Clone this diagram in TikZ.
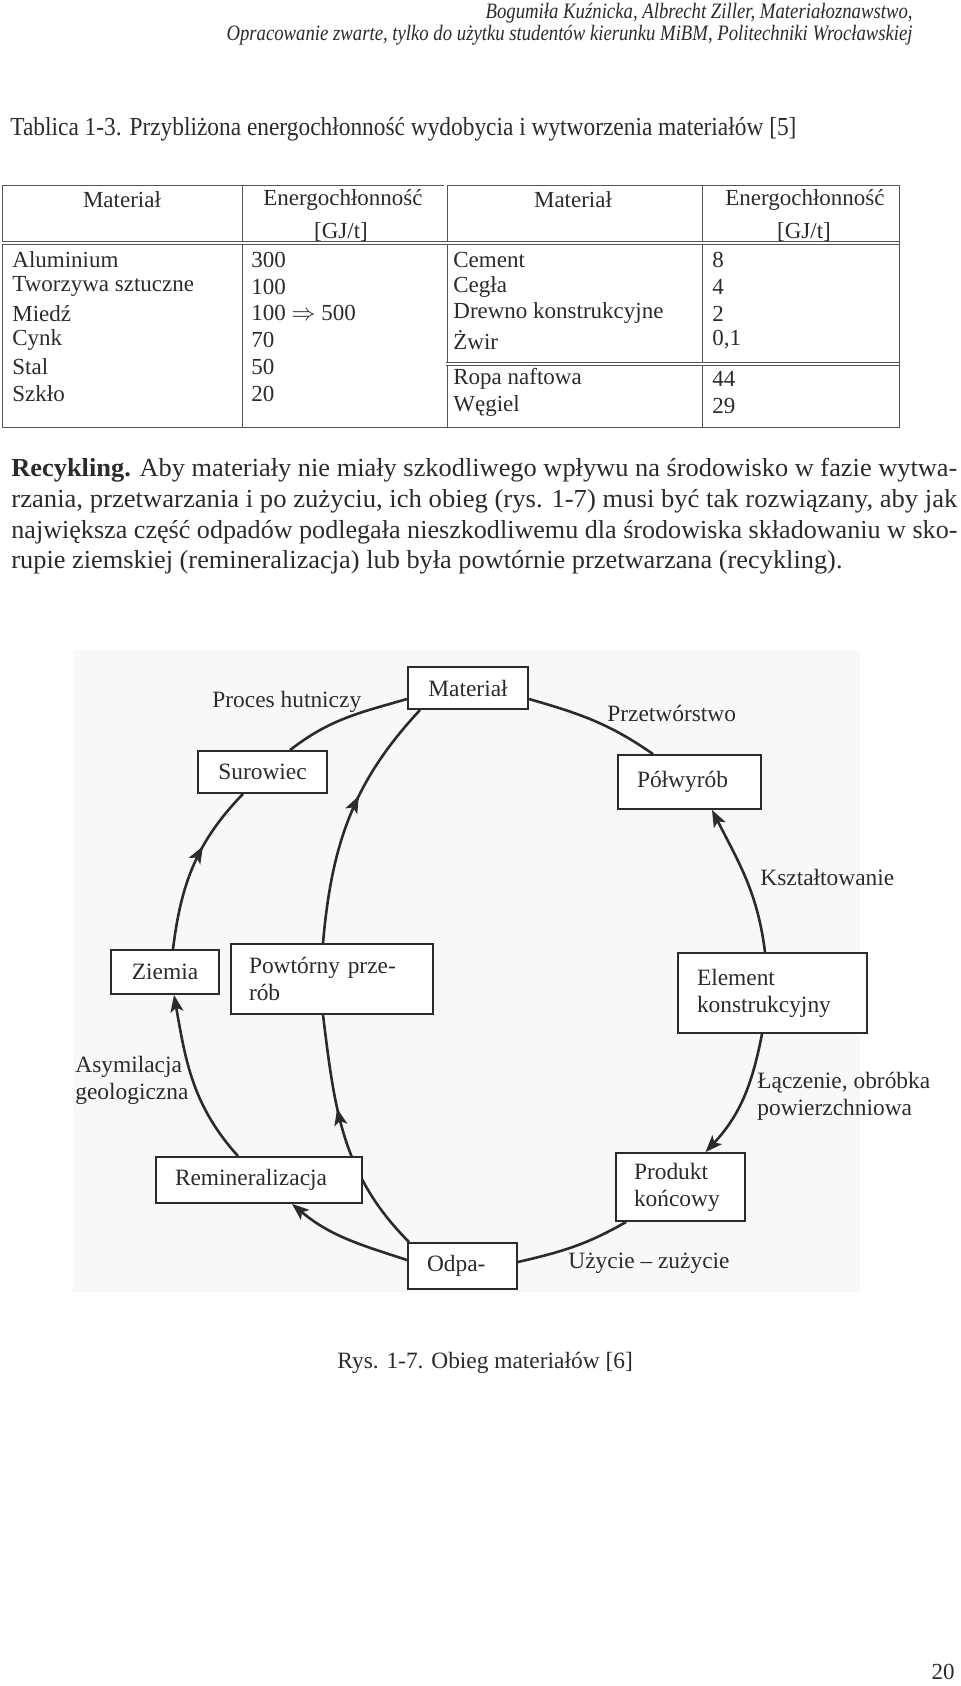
\documentclass[tikz,border=0pt]{standalone}
\usepackage{fontspec}
\setmainfont{Liberation Serif}
\usepackage{graphicx}
\usepackage{tikz}
\usetikzlibrary{calc,arrows.meta}
\usetikzlibrary{decorations.markings}
\definecolor{ink}{HTML}{2B2B2B}
\definecolor{rule}{HTML}{555555}
\definecolor{tint}{HTML}{F8F8F8}
\newcommand{\stretchto}[2]{\resizebox{#1}{\height}{#2}}
\newcommand{\hdrfont}{\fontsize{11}{13}\selectfont}
\newcommand{\boxfont}{\fontsize{11.7}{13.4}\selectfont}
\newcommand{\tabfont}{\fontsize{11.5}{13.3}\selectfont}
\newcommand{\parfont}{\fontsize{13}{15.5}\selectfont}
\pgfdeclarelayer{back}
\pgfdeclarelayer{lines}
\pgfsetlayers{back,lines,main}

\begin{document}
\begin{tikzpicture}[x=0.5pt, y=0.5pt, color=ink,
    stage/.style={draw=ink, line width=0.9pt, fill=white, inner sep=0pt, align=center, font=\boxfont},
    lstage/.style={stage, align=left},
    lbl/.style={anchor=west, inner sep=0pt, align=left, font=\boxfont},
    cell/.style={anchor=west, inner sep=0pt, font=\tabfont},
    hcell/.style={inner sep=0pt, font=\tabfont},
    tline/.style={rule, line width=0.5pt},
    dbl/.style={rule, line width=0.45pt, double=white, double distance=1.1pt},
    flow/.style={ink, line width=1.3pt},
    endarrow/.style={-{Stealth[length=8.5pt, width=6.5pt, inset=2pt]}},
    midarrow/.style={postaction={decorate}, decoration={markings, mark=at position #1 with {\arrow{Stealth[length=8.5pt, width=6.5pt, inset=2pt]}}}}
]
    \useasboundingbox (0,0) rectangle (960,-1686);
    % Page header
    \node[anchor=east, inner sep=0pt, font=\hdrfont\itshape] (h1) at (913,-13) {\stretchto{213.5pt}{Bogumiła Kuźnicka, Albrecht Ziller, Materiałoznawstwo,}};
    \node[anchor=east, inner sep=0pt, font=\hdrfont\itshape] (h2) at (913,-35.5) {\stretchto{343pt}{Opracowanie zwarte, tylko do użytku studentów kierunku MiBM, Politechniki Wrocławskiej}};
    \node[anchor=west, inner sep=0pt, font=\parfont] (cap) at (10,-129) {\stretchto{393pt}{Tablica 1-3. Przybliżona energochłonność wydobycia i wytworzenia materiałów [5]}};

    % Table frame
    \draw[tline] (2,-185) rectangle (899,-427);
    \draw[tline] (242,-185) -- (242,-427);
    \draw[tline] (702,-185) -- (702,-427);
    \draw[dbl] (445.5,-185) -- (445.5,-427);
    \draw[dbl] (2,-243) -- (899,-243);
    \draw[dbl] (445.5,-364) -- (899,-364);
    % Table header
    \node[hcell] (hm1) at (122,-200) {Materiał};
    \node[hcell] (he1) at (343,-200) {Energochłonność};
    \node[hcell] (hu1) at (341,-232) {[GJ/t]};
    \node[hcell] (hm2) at (573,-200) {Materiał};
    \node[hcell] (he2) at (805,-200) {Energochłonność};
    \node[hcell] (hu2) at (804,-232) {[GJ/t]};
    % Table rows
    \foreach \name/\val [count=\i] in {Aluminium/300, Tworzywa sztuczne/100, Miedź/{100 $\Rightarrow$ 500}, Cynk/70, Stal/50, Szkło/20} {
        \node[cell] (lm\i) at (12,{-260-(\i-1)*26.7}) {\name};
        \node[cell] (lv\i) at (251,{-260-(\i-1)*26.7}) {\val};
    }
    \foreach \name/\val [count=\i] in {Cement/8, Cegła/4, Drewno konstrukcyjne/2, Żwir/{0,1}} {
        \node[cell] (rm\i) at (453,{-260-(\i-1)*26.7}) {\name};
        \node[cell] (rv\i) at (712,{-260-(\i-1)*26.7}) {\val};
    }
    \node[cell] (rm5) at (453,-379) {Ropa naftowa};
    \node[cell] (rv5) at (712,-379) {44};
    \node[cell] (rm6) at (453,-406) {Węgiel};
    \node[cell] (rv6) at (712,-406) {29};

    % Paragraph
    \node[anchor=west, inner sep=0pt, font=\parfont] (p1) at (11,-470) {\stretchto{473pt}{\textbf{Recykling.} Aby materiały nie miały szkodliwego wpływu na środowisko w fazie wytwa-}};
    \node[anchor=west, inner sep=0pt, font=\parfont] (p2) at (11,-501) {\stretchto{473pt}{rzania, przetwarzania i po zużyciu, ich obieg (rys. 1-7) musi być tak rozwiązany, aby jak}};
    \node[anchor=west, inner sep=0pt, font=\parfont] (p3) at (11,-532) {\stretchto{473pt}{największa część odpadów podlegała nieszkodliwemu dla środowiska składowaniu w sko-}};
    \node[anchor=west, inner sep=0pt, font=\parfont] (p4) at (11,-562) {\stretchto{415.5pt}{rupie ziemskiej (remineralizacja) lub była powtórnie przetwarzana (recykling).}};

    % Diagram background
    \begin{pgfonlayer}{back}
        \fill[tint] (73,-650) rectangle (860,-1292);
    \end{pgfonlayer}
    % Cycle stages
    \node[stage, minimum width=60pt, minimum height=21pt] (mat) at (468,-688) {Materiał};
    \node[stage, minimum width=64.5pt, minimum height=21pt] (sur) at (262.5,-772) {Surowiec};
    \node[lstage, text width=52.5pt, inner xsep=9.5pt, minimum height=27pt] (pol) at (689.5,-782) {Półwyrób};
    \node[stage, minimum width=54pt, minimum height=22pt] (ziem) at (165,-972) {Ziemia};
    \node[lstage, text width=83pt, inner xsep=9pt, minimum height=35pt] (powt) at (332,-979) {Powtórny prze-\\rób};
    \node[lstage, text width=75.5pt, inner xsep=9.5pt, minimum height=40pt] (elem) at (772.5,-993) {Element\\konstrukcyjny};
    \node[lstage, text width=84pt, inner xsep=9.5pt, minimum height=23pt] (remin) at (259,-1180) {Remineralizacja};
    \node[lstage, text width=46.5pt, inner xsep=9pt, minimum height=34pt] (prod) at (680.5,-1187) {Produkt\\końcowy};
    \node[lstage, text width=35.5pt, inner xsep=9.5pt, minimum height=23pt] (odpa) at (462.5,-1266) {Odpa-};
    % Process labels
    \node[lbl] (lhut) at (212,-702) {Proces hutniczy};
    \node[lbl] (lprz) at (607,-713) {Przetwórstwo};
    \node[lbl] (lksz) at (760,-877) {Kształtowanie};
    \node[lbl] (lasy) at (75,-1080) {Asymilacja\\geologiczna};
    \node[lbl] (llacz) at (757,-1096) {Łączenie, obróbka\\powierzchniowa};
    \node[lbl] (luzy) at (568,-1263) {Użycie – zużycie};

    % Connectors
    \begin{pgfonlayer}{lines}
        \draw[flow] ($(sur.north)+(27.5,0)$) to[out=38, in=196] ($(mat.west)+(0,-11)$);
        \draw[flow] ($(mat.east)+(0,-11)$) to[out=344, in=145] ($(pol.north)+(-36.5,0)$);
        \draw[flow, midarrow=0.62] ($(ziem.north)+(8,0)$) to[out=83, in=226] ($(sur.south)+(-19.5,0)$);
        \draw[flow, midarrow=0.59] ($(powt.north)+(-9,0)$) to[out=85, in=227] ($(mat.south west)+(13,0)$);
        \draw[flow, endarrow] ($(elem.north)+(-7.5,0)$) to[out=97, in=297] ($(pol.south)+(22.5,0)$);
        \draw[flow, endarrow] ($(elem.south)+(-10.5,0)$) to[out=259, in=47] ($(prod.north)+(25,0)$);
        \draw[flow] ($(prod.south west)+(11,0)$) to[out=210, in=13] ($(odpa.east)+(0,4)$);
        \draw[flow, endarrow] ($(odpa.west)+(0,6)$) to[out=162, in=320] ($(remin.south)+(33,0)$);
        \draw[flow, midarrow=0.62] ($(odpa.north west)+(2,0)$) to[out=135, in=277] ($(powt.south)+(-9,0)$);
        \draw[flow, endarrow] ($(remin.north)+(-21,0)$) to[out=132, in=280] ($(ziem.south)+(9,0)$);
    \end{pgfonlayer}

    % Caption and page number
    \node[anchor=west, inner sep=0pt, font=\boxfont] (rys) at (337,-1363) {Rys. 1-7. Obieg materiałów [6]};
    \node[anchor=east, inner sep=0pt, font=\tabfont] (pg) at (955,-1672) {20};
\end{tikzpicture}
\end{document}
